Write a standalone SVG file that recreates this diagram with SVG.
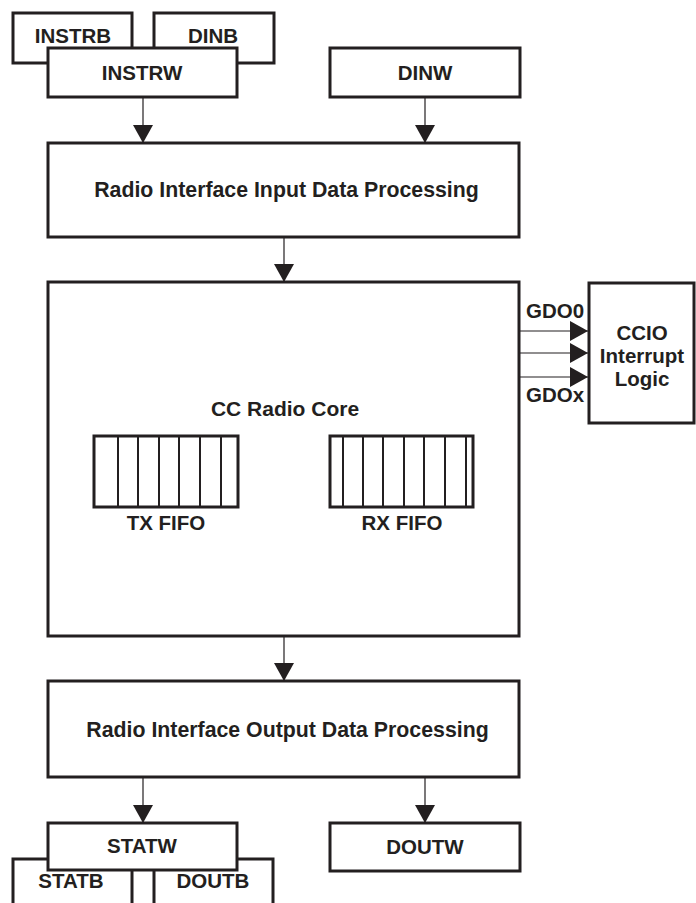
<svg xmlns="http://www.w3.org/2000/svg" width="696" height="903" viewBox="0 0 696 903">
<style>
.box{fill:#fff;stroke:#231f20;stroke-width:3}
.t{font-family:"Liberation Sans",Arial,sans-serif;font-weight:bold;font-size:20.5px;fill:#231f20;text-anchor:middle}
.big{font-size:21.3px}
.ln{stroke:#231f20;stroke-width:1.2;fill:none}
.fifo{fill:none;stroke:#231f20;stroke-width:2}
</style>
<defs>
<marker id="ah" markerWidth="20" markerHeight="20" refX="18" refY="10" orient="auto" markerUnits="userSpaceOnUse">
<path d="M0,0 L18,10 L0,20 Z" fill="#231f20"/>
</marker>
</defs>
<rect width="696" height="903" fill="#fff"/>
<g id="instrb"><rect class="box" x="13" y="13" width="119" height="50"/><text class="t" x="73" y="43">INSTRB</text></g>
<g id="dinb"><rect class="box" x="154" y="13" width="120" height="50"/><text class="t" x="213" y="43">DINB</text></g>
<g id="instrw"><rect class="box" x="48" y="48" width="189" height="49"/><text class="t" x="142" y="80">INSTRW</text></g>
<g id="dinw"><rect class="box" x="330" y="48" width="190" height="49"/><text class="t" x="425" y="80">DINW</text></g>
<g id="input"><rect class="box" x="48" y="143" width="471" height="94"/><text class="t big" x="286.5" y="197">Radio Interface Input Data Processing</text></g>
<g id="core"><rect class="box" x="48" y="282" width="471" height="354"/><text class="t" x="285" y="416" style="font-size:21px">CC Radio Core</text>
<g id="txfifo"><rect class="box" x="94" y="436" width="144" height="71"/>
<path class="fifo" d="M118,436V507M138,436V507M159,436V507M179,436V507M200,436V507M221,436V507"/>
<text class="t" x="166" y="530">TX FIFO</text></g>
<g id="rxfifo"><rect class="box" x="330" y="436" width="143" height="71"/>
<path class="fifo" d="M343,436V507M363,436V507M383,436V507M404,436V507M424,436V507M445,436V507M466,436V507"/>
<text class="t" x="402" y="530">RX FIFO</text></g>
<text class="t" x="555" y="318">GDO0</text>
<text class="t" x="555" y="402">GDOx</text>
</g>
<g id="ccio"><rect class="box" x="589" y="283" width="105" height="140"/>
<text class="t" x="642" y="340">CCIO</text><text class="t" x="642" y="363">Interrupt</text><text class="t" x="642" y="386">Logic</text></g>
<g id="output"><rect class="box" x="48" y="681" width="471" height="96"/><text class="t big" x="287.5" y="737">Radio Interface Output Data Processing</text></g>
<g id="statb"><rect class="box" x="13" y="859" width="119" height="60"/><text class="t" x="71" y="888">STATB</text></g>
<g id="doutb"><rect class="box" x="154" y="859" width="119" height="60"/><text class="t" x="213" y="888">DOUTB</text></g>
<g id="statw"><rect class="box" x="48" y="823" width="189" height="47"/><text class="t" x="142" y="853">STATW</text></g>
<g id="doutw"><rect class="box" x="330" y="823" width="190" height="48"/><text class="t" x="425" y="854">DOUTW</text></g>
<g id="connectors">
<path class="ln" d="M143,98V143" marker-end="url(#ah)"/>
<path class="ln" d="M425,98V143" marker-end="url(#ah)"/>
<path class="ln" d="M284,238V282" marker-end="url(#ah)"/>
<path class="ln" d="M520,331H588" marker-end="url(#ah)"/>
<path class="ln" d="M520,353H588" marker-end="url(#ah)"/>
<path class="ln" d="M520,377H588" marker-end="url(#ah)"/>
<path class="ln" d="M284,637V681" marker-end="url(#ah)"/>
<path class="ln" d="M143,778V823" marker-end="url(#ah)"/>
<path class="ln" d="M425,778V823" marker-end="url(#ah)"/>
</g>
</svg>
